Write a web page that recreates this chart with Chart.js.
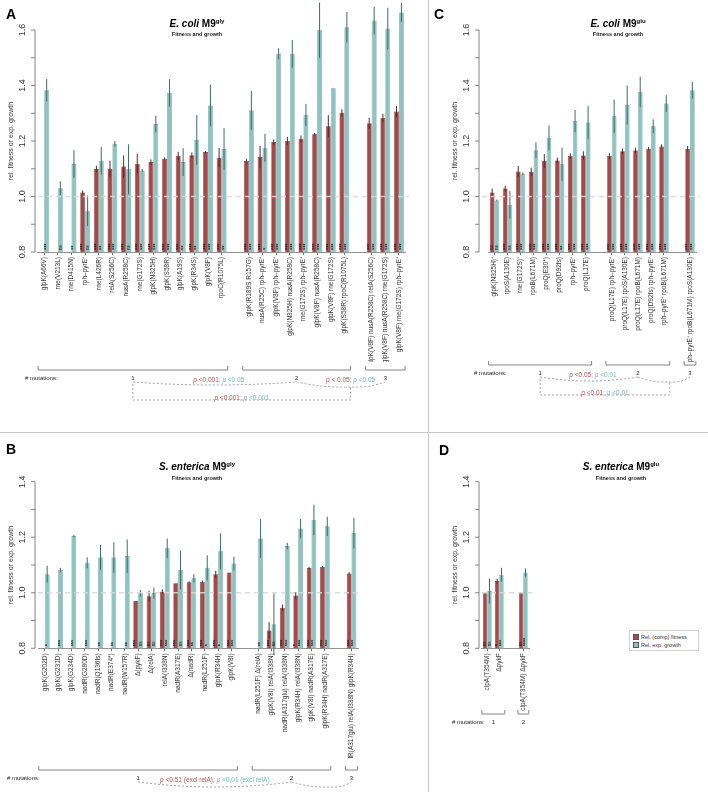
<!DOCTYPE html>
<html>
<head>
<meta charset="utf-8">
<script src="https://cdn.jsdelivr.net/npm/chart.js@4.4.1/dist/chart.umd.min.js"></script>
<style>
  body { margin: 0; background: #fff; font-family: 'Liberation Sans', Arial, sans-serif; }
  #fig { position: relative; width: 708px; height: 792px; overflow: hidden; }
  canvas { position: absolute; }
  .letter { position: absolute; font-weight: bold; font-size: 14px; line-height: 1; }
  .title { position: absolute; font-weight: bold; font-size: 10px; line-height: 1; transform: translateX(-50%); white-space: nowrap; }
  .title sup { font-size: 6px; }
  .sub { position: absolute; font-weight: bold; font-size: 5.5px; line-height: 1; transform: translateX(-50%); white-space: nowrap; color: #222; }
  .vline { position: absolute; left: 428px; top: 0; width: 1px; height: 792px; background: #c8c8c8; }
  .hline { position: absolute; left: 0; top: 432px; width: 708px; height: 1px; background: #c8c8c8; }
  .legend { position: absolute; left: 629px; top: 630px; width: 64px; padding: 2px 1px 1px 3px; border: 1px solid #d0d0d0; font-size: 5.5px; line-height: 8px; color: #333; background: #fff; }
  .legend i { display: inline-block; width: 4px; height: 4px; margin-right: 2px; border: 0.6px solid #555; vertical-align: -0.5px; }
</style>
</head>
<body>
<div id="fig">
  <canvas id="panelA" width="428" height="432" style="left:0;top:0"></canvas>
  <canvas id="panelC" width="278" height="432" style="left:430px;top:0"></canvas>
  <canvas id="panelB" width="428" height="359" style="left:0;top:433px"></canvas>
  <canvas id="panelD" width="278" height="359" style="left:430px;top:433px"></canvas>
  <div class="vline"></div>
  <div class="hline"></div>
  <div class="letter" style="left:6px;top:7px">A</div>
  <div class="letter" style="left:434px;top:7px">C</div>
  <div class="letter" style="left:6px;top:442px">B</div>
  <div class="letter" style="left:439px;top:443px">D</div>
  <div class="title" style="left:197px;top:18px"><i>E. coli</i> M9<sup>gly</sup></div>
  <div class="sub" style="left:197px;top:32px">Fitness and growth</div>
  <div class="title" style="left:618px;top:18px"><i>E. coli</i> M9<sup>glu</sup></div>
  <div class="sub" style="left:618px;top:32px">Fitness and growth</div>
  <div class="title" style="left:197px;top:461px"><i>S. enterica</i> M9<sup>gly</sup></div>
  <div class="sub" style="left:197px;top:476px">Fitness and growth</div>
  <div class="title" style="left:621px;top:461px"><i>S. enterica</i> M9<sup>glu</sup></div>
  <div class="sub" style="left:621px;top:476px">Fitness and growth</div>
  <div class="legend">
    <div><i style="background:#a54a4a"></i>Rel. (comp) fitness</div>
    <div><i style="background:#8fc3c1"></i>Rel. exp. growth</div>
  </div>
</div>
<script>
// ---- panel A: E. coli M9gly ----
const aLabels1 = ['glpK(A66V)', 'rne(V213L)', 'rne(D415N)', 'rph–pyrE⁺', 'rne(L426R)', 'relA(S256C)', 'nusA(R258C)',
  'rne(G172S)', 'glpK(N325H)', 'glpK(S58R)', 'glpK(A19S)', 'glpK(R34S)', 'glpK(V8F)', 'rpoC(R1075L)'];
const aLabels2 = ['glpK(R189S R157G)', 'nusA(R25C) rph–pyrE⁺', 'glpK(V8F) rph–pyrE⁺', 'glpK(N325H) nusA(R258C)',
  'rne(G172S) rph–pyrE⁺', 'glpK(V8F) nusA(R258C)', 'glpK(V8F) rne(G172S)', 'glpK(S58R) rpoC(R1075L)'];
const aLabels3 = ['glpK(V8F) nusA(R258C) relA(S256C)', 'glpK(V8F) nusA(R258C) rne(G172S)', 'glpK(V8F) rne(G172S) rph–pyrE⁺'];
const aFitness = [null, null, null, 1.014, 1.099, 1.099, 1.108, 1.118, 1.124, 1.136, 1.146, 1.149, 1.160, 1.140,
  1.128, 1.142, 1.196, 1.200, 1.208, 1.224, 1.253, 1.302, 1.264, 1.283, 1.306];
const aGrowth = [1.383, 1.030, 1.117, 0.949, 1.129, 1.190, 1.098, 1.094, 1.261, 1.373, 1.124, 1.204, 1.328, 1.171,
  1.311, 1.176, 1.514, 1.514, 1.294, 1.599, 1.390, 1.610, 1.634, 1.605, 1.663];
const aFitnessErr = [0, 0, 0, 0.008, 0.012, 0.03, 0.04, 0.035, 0.01, 0.005, 0.015, 0.01, 0.004, 0.035,
  0.008, 0.04, 0.01, 0.015, 0.012, 0.005, 0.04, 0.012, 0.02, 0.015, 0.02];
const aGrowthErr = [0.04, 0.025, 0.05, 0.055, 0.05, 0.01, 0.09, 0.005, 0.03, 0.05, 0.05, 0.09, 0.075, 0.075,
  0.07, 0.05, 0.02, 0.05, 0.04, 0.1, 0, 0.055, 0.05, 0.075, 0.035];
const aFitnessSig = [null, null, null, '***', '***', '***', '***', '***', '***', '***', '***', '***', '***', '***',
  '***', '***', '***', '***', '***', '***', '***', '***', '***', '***', '***'];
const aGrowthSig = ['***', 'ns', '**', 'ns', '**', '***', 'ns', '***', '***', '***', '**', '**', '***', '**',
  '***', '*', '***', '***', '***', '***', '***', '***', '***', '***', '***'];
const aPvals = [['p <0.001', 'p <0.05'], ['p < 0.05', 'p <0.05'], ['p <0.001', 'p <0.001']];

// ---- panel C: E. coli M9glu ----
const cLabels1 = ['glpK(N325H)⁺', 'rpoS(A130E)', 'rne(G172S)⁺', 'rpoB(L671M)', 'proQ(E30*)', 'proQ(D92fs)', 'rph–pyrE⁺', 'proQ(L17E)'];
const cLabels2 = ['proQ(L17E) rph–pyrE⁺', 'proQ(L17E) rpoS(A130E)', 'proQ(L17E) rpoB(L671M)', 'proQ(D92fs) rph–pyrE⁺', 'rph–pyrE⁺ rpoB(L671M)'];
const cLabels3 = ['rph–pyrE⁺ rpoB(L671M) rpoS(A130E)'];
const cFitness = [1.014, 1.029, 1.090, 1.089, 1.128, 1.130, 1.146, 1.148, 1.146, 1.163, 1.166, 1.172, 1.180, 1.172];
const cGrowth = [0.986, 0.970, 1.082, 1.167, 1.211, 1.116, 1.272, 1.267, 1.289, 1.330, 1.377, 1.253, 1.335, 1.383];
const cFitnessErr = [0.015, 0.01, 0.02, 0.015, 0.025, 0.01, 0.01, 0.015, 0.01, 0.01, 0.01, 0.006, 0.008, 0.01];
const cGrowthErr = [0.003, 0.05, 0.005, 0.028, 0.045, 0.06, 0.04, 0.06, 0.06, 0.07, 0.055, 0.025, 0.03, 0.03];
const cFitnessSig = ['ns', '***', '***', '***', '***', '***', '***', '***', '***', '***', '***', '***', '***', '***'];
const cGrowthSig = ['ns', 'ns', '***', '***', '***', '**', '***', '***', '***', '***', '***', '***', '***', '***'];
const cPvals = [['p <0.05', 'p <0.01'], null, ['p <0.01', 'p <0.01']];

// ---- panel B: S. enterica M9gly ----
const bLabels1 = ['glpK(G202D)', 'glpK(G231D)', 'glpK(G234D)', 'nadR(G280D)', 'nadR(Q136fs)', 'nadR(E374*)', 'nadR(W157R)',
  'Δ(pykF)', 'Δ(relA)', 'relA(I338N)', 'nadR(A317E)', 'Δ(nadR)', 'nadR(L251F)', 'glpK(R34H)', 'glpK(V8I)'];
const bLabels2 = ['nadR(L251F) Δ(relA)', 'glpK(V8I) relA(I338N)', 'nadR(A317glu) relA(I338N)', 'glpK(R34H) relA(I338N)',
  'glpK(V8I) nadR(A317E)', 'glpK(R34H) nadR(A317E)'];
const bLabels3 = ['nadR(A317glu) relA(I338N) glpK(R34H)'];
const bFitness = [null, null, null, null, null, null, null, 0.970, 0.987, 1.004, 1.034, 1.038, 1.040, 1.067, 1.073,
  null, 0.864, 0.946, 0.990, 1.089, 1.093, 1.069];
const bGrowth = [1.067, 1.082, 1.204, 1.108, 1.127, 1.127, 1.132, 0.998, 0.999, 1.160, 1.082, 1.052, 1.090, 1.149, 1.105,
  1.195, 0.887, 1.168, 1.231, 1.262, 1.239, 1.215];
const bFitnessErr = [0, 0, 0, 0, 0, 0, 0, 0, 0.02, 0.008, 0, 0.003, 0.004, 0.012, 0,
  0, 0.03, 0.012, 0.012, 0.004, 0.003, 0.005];
const bGrowthErr = [0.03, 0.008, 0.005, 0.02, 0.045, 0.055, 0.06, 0.012, 0.02, 0.035, 0.07, 0.015, 0.045, 0.065, 0.025,
  0.07, 0.11, 0.012, 0.035, 0.055, 0.035, 0.055];
const bFitnessSig = [null, null, null, null, null, null, null, '***', 'ns', '***', '***', '***', '***', '***', '***',
  null, '***', '***', '*', '***', '***', '***'];
const bGrowthSig = ['*', '***', '***', '***', '**', '**', '**', 'ns', 'ns', '***', 'ns', '**', '*', '*', '***',
  '**', 'ns', '***', '***', '***', '***', '***'];
const bPvals = [['p <0.51 (excl relA)', 'p <0.01 (excl relA)']];

// ---- panel D: S. enterica M9glu ----
const dLabels1 = ['clpA(T354M)', 'ΔpykF'];
const dLabels2 = ['clpA(T354M) ΔpykF'];
const dFitness = [1.000, 1.042, 1.000];
const dGrowth = [1.006, 1.065, 1.073];
const dFitnessErr = [0, 0.008, 0];
const dGrowthErr = [0.045, 0.025, 0.015];
const dFitnessSig = ['ns', '*', 'ns'];
const dGrowthSig = ['ns', '***', '****'];

const FONT = "'Liberation Sans', Arial, sans-serif";
const RED = '#a54a4a', RED_EDGE = '#763333', TEAL = '#8fc3c1', TEAL_EDGE = '#5d9593';
const RED_TXT = '#b54f4d', TEAL_TXT = '#74b8b5';

// insert an empty slot between groups
function withGaps(sizes, arr, fill) {
  const out = [];
  let k = 0;
  sizes.forEach((n, g) => {
    if (g) out.push(fill);
    for (let i = 0; i < n; i++) out.push(arr[k++]);
  });
  return out;
}

function drawRich(ctx, parts, cx, y) {
  const fonts = parts.map(p => (p.i ? 'italic ' : '') + '6.5px ' + FONT);
  let total = 0;
  parts.forEach((p, i) => { ctx.font = fonts[i]; total += ctx.measureText(p.t).width; });
  let x = cx - total / 2;
  ctx.textAlign = 'left';
  parts.forEach((p, i) => {
    ctx.font = fonts[i];
    ctx.fillStyle = p.c;
    ctx.fillText(p.t, x, y);
    x += ctx.measureText(p.t).width;
  });
}

function pParts(pair) {
  const out = [];
  pair.forEach((s, k) => {
    const col = k ? TEAL_TXT : RED_TXT;
    if (k) out.push({ t: '; ', c: '#999' });
    out.push({ t: 'p', c: col, i: true });
    out.push({ t: s.slice(1), c: col });
  });
  return out;
}

function rPlugin(cfg, starts, sizes) {
  return {
    id: 'rstyle',
    afterDatasetsDraw(chart) {
      const ctx = chart.ctx, xs = chart.scales.x, ys = chart.scales.y, area = chart.chartArea;
      ctx.save();

      // error bars + significance marks
      chart.data.datasets.forEach((ds, di) => {
        chart.getDatasetMeta(di).data.forEach((el, j) => {
          const v = ds.data[j];
          if (v == null) return;
          const e = ds.err[j];
          if (e > 0) {
            ctx.strokeStyle = di ? '#3d6a68' : '#562828';
            ctx.lineWidth = 1;
            ctx.beginPath();
            ctx.moveTo(el.x, ys.getPixelForValue(v - e));
            ctx.lineTo(el.x, ys.getPixelForValue(v + e));
            ctx.stroke();
          }
          const s = ds.sig[j];
          if (s) {
            ctx.save();
            ctx.translate(el.x, area.bottom - 2);
            ctx.rotate(-Math.PI / 2);
            ctx.font = (s === 'ns' ? '4.5px ' : 'bold 5.5px ') + FONT;
            ctx.fillStyle = '#1c1c1c';
            ctx.textAlign = 'left';
            ctx.textBaseline = 'middle';
            ctx.fillText(s, 0, 0);
            ctx.restore();
          }
        });
      });

      // dashed reference line at 1.0
      ctx.strokeStyle = 'rgba(215,215,215,0.9)';
      ctx.lineWidth = 1.5;
      ctx.setLineDash([5, 4]);
      ctx.beginPath();
      ctx.moveTo(cfg.axisX + 3, ys.getPixelForValue(1));
      ctx.lineTo(area.right + 3, ys.getPixelForValue(1));
      ctx.stroke();
      ctx.setLineDash([]);

      // R-style y axis
      ctx.strokeStyle = '#666';
      ctx.lineWidth = 0.8;
      ctx.beginPath();
      ctx.moveTo(cfg.axisX, ys.getPixelForValue(0.8));
      ctx.lineTo(cfg.axisX, ys.getPixelForValue(cfg.maxTick));
      for (let t = 8; t <= Math.round(cfg.maxTick * 10); t++) {
        const py = ys.getPixelForValue(t / 10);
        ctx.moveTo(cfg.axisX, py);
        ctx.lineTo(cfg.axisX - 4, py);
      }
      ctx.stroke();
      ctx.fillStyle = '#333';
      ctx.textAlign = 'center';
      ctx.textBaseline = 'middle';
      for (let t = 8; t <= Math.round(cfg.maxTick * 10); t += 2) {
        ctx.save();
        ctx.translate(cfg.axisX - 12, ys.getPixelForValue(t / 10));
        ctx.rotate(-Math.PI / 2);
        ctx.font = '9px ' + FONT;
        ctx.fillText((t / 10).toFixed(1), 0, 0);
        ctx.restore();
      }
      ctx.save();
      ctx.translate(cfg.axisX - 24, (ys.getPixelForValue(0.8) + ys.getPixelForValue(cfg.maxTick)) / 2);
      ctx.rotate(-Math.PI / 2);
      ctx.font = '7px ' + FONT;
      ctx.fillText('rel. fitness or exp. growth', 0, 0);
      ctx.restore();

      // group brackets
      const cw = xs.getPixelForValue(1) - xs.getPixelForValue(0);
      const spans = starts.map((s, g) => [xs.getPixelForValue(s) - cw * 0.45, xs.getPixelForValue(s + sizes[g] - 1) + cw * 0.45]);
      const centers = spans.map(([a, b]) => (a + b) / 2);
      const by = cfg.bracketY;
      ctx.strokeStyle = '#666';
      ctx.lineWidth = 0.8;
      ctx.beginPath();
      spans.forEach(([a, b]) => {
        ctx.moveTo(a, by - 4); ctx.lineTo(a, by); ctx.lineTo(b, by); ctx.lineTo(b, by - 4);
      });
      ctx.stroke();
      ctx.fillStyle = '#222';
      ctx.font = '6px ' + FONT;
      ctx.textAlign = 'left';
      ctx.fillText('# mutations:', cfg.mutX, by + 8);
      ctx.textAlign = 'center';
      centers.forEach((c, g) => ctx.fillText(String(g + 1), c, by + 8));

      // p-value links
      const pv = cfg.pvals;
      if (pv) {
        const ny = by + 12;
        ctx.strokeStyle = '#888';
        ctx.lineWidth = 0.8;
        ctx.setLineDash([2, 2]);
        ctx.beginPath();
        ctx.moveTo(centers[0], ny);
        ctx.quadraticCurveTo((centers[0] + centers[1]) / 2, ny + cfg.dip, centers[1], ny);
        ctx.stroke();
        if (pv[0]) drawRich(ctx, pParts(pv[0]), (centers[0] + centers[1]) / 2 + cfg.shift, by + 10);
        if (centers.length > 2) {
          const dipX = spans[1][1];
          ctx.beginPath();
          ctx.moveTo(centers[1], ny);
          ctx.quadraticCurveTo((centers[1] + dipX) / 2, ny + 6, dipX, ny + 5);
          ctx.quadraticCurveTo((dipX + centers[2]) / 2, ny + 6, centers[2], ny);
          ctx.stroke();
          if (pv[1]) drawRich(ctx, pParts(pv[1]), dipX, by + 10);
          if (pv[2]) {
            ctx.beginPath();
            ctx.moveTo(centers[0], ny + 2);
            ctx.lineTo(centers[0], by + 30);
            ctx.lineTo(dipX, by + 30);
            ctx.lineTo(dipX, ny + 5);
            ctx.stroke();
            drawRich(ctx, pParts(pv[2]), (centers[0] + dipX) / 2, by + 28);
          }
        }
        ctx.setLineDash([]);
      }
      ctx.restore();
    }
  };
}

function makePanel(id, cfg) {
  const sizes = cfg.groups.map(g => g.length);
  const labels = withGaps(sizes, cfg.groups.flat(), '');
  const starts = [];
  let k = 0;
  sizes.forEach(n => { starts.push(k); k += n + 1; });
  return new Chart(document.getElementById(id), {
    type: 'bar',
    data: {
      labels: labels,
      datasets: [
        {
          label: 'Rel. (comp) fitness',
          data: withGaps(sizes, cfg.fitness, null),
          err: withGaps(sizes, cfg.fitnessErr, 0),
          sig: withGaps(sizes, cfg.fitnessSig, null),
          backgroundColor: RED,
          borderColor: RED_EDGE,
          borderWidth: 0.6,
        },
        {
          label: 'Rel. exp. growth',
          data: withGaps(sizes, cfg.growth, null),
          err: withGaps(sizes, cfg.growthErr, 0),
          sig: withGaps(sizes, cfg.growthSig, null),
          backgroundColor: TEAL,
          borderColor: TEAL_EDGE,
          borderWidth: 0.6,
        },
      ],
    },
    options: {
      responsive: false,
      animation: false,
      events: [],
      layout: { padding: cfg.pad },
      plugins: { legend: { display: false }, tooltip: { enabled: false } },
      datasets: { bar: { categoryPercentage: 0.72, barPercentage: 1 } },
      scales: {
        x: {
          afterFit: (scale) => { scale.height = 110; },
          border: { display: true, color: '#777', width: 0.8 },
          grid: {
            drawOnChartArea: false,
            offset: false,
            tickLength: 3,
            color: (c) => (labels[c.index] ? '#777' : 'rgba(0,0,0,0)'),
          },
          ticks: {
            autoSkip: false,
            minRotation: 90,
            maxRotation: 90,
            padding: 2,
            color: '#333',
            font: { size: 6.5, family: FONT },
          },
        },
        y: { display: false, min: 0.8, max: cfg.yMax },
      },
    },
    plugins: [rPlugin(cfg, starts, sizes)],
  });
}

makePanel('panelA', {
  groups: [aLabels1, aLabels2, aLabels3],
  fitness: aFitness, growth: aGrowth, fitnessErr: aFitnessErr, growthErr: aGrowthErr,
  fitnessSig: aFitnessSig, growthSig: aGrowthSig, pvals: aPvals,
  pad: { left: 37.4, right: 22.2, top: 7.8, bottom: 70 },
  yMax: 1.68, maxTick: 1.6, axisX: 35, bracketY: 370, mutX: 25, dip: 6, shift: 4,
});

makePanel('panelC', {
  groups: [cLabels1, cLabels2, cLabels3],
  fitness: cFitness, growth: cGrowth, fitnessErr: cFitnessErr, growthErr: cGrowthErr,
  fitnessSig: cFitnessSig, growthSig: cGrowthSig, pvals: cPvals,
  pad: { left: 58, right: 11.5, top: 7.8, bottom: 70 },
  yMax: 1.68, maxTick: 1.6, axisX: 49, bracketY: 365, mutX: 44, dip: 8, shift: 4,
});

makePanel('panelB', {
  groups: [bLabels1, bLabels2, bLabels3],
  fitness: bFitness, growth: bGrowth, fitnessErr: bFitnessErr, growthErr: bGrowthErr,
  fitnessSig: bFitnessSig, growthSig: bGrowthSig, pvals: bPvals,
  pad: { left: 38.1, right: 69.8, top: 43.1, bottom: 33.7 },
  yMax: 1.42, maxTick: 1.4, axisX: 35, bracketY: 337, mutX: 7, dip: 10, shift: 0,
});

makePanel('panelD', {
  groups: [dLabels1, dLabels2],
  fitness: dFitness, growth: dGrowth, fitnessErr: dFitnessErr, growthErr: dGrowthErr,
  fitnessSig: dFitnessSig, growthSig: dGrowthSig, pvals: null,
  pad: { left: 51.3, right: 178.7, top: 43.1, bottom: 33.7 },
  yMax: 1.42, maxTick: 1.4, axisX: 49, bracketY: 281, mutX: 22, dip: 0, shift: 0,
});
</script>
</body>
</html>
